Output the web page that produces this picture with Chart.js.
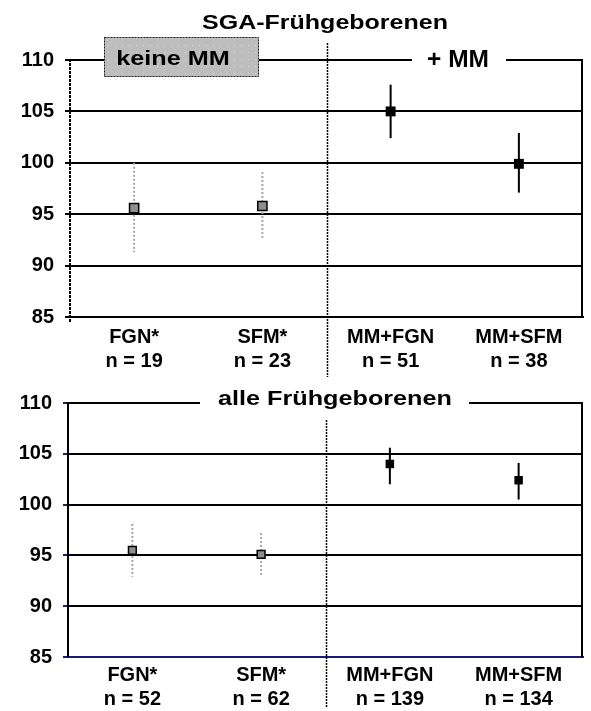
<!DOCTYPE html>
<html>
<head>
<meta charset="utf-8">
<script src="https://cdn.jsdelivr.net/npm/chart.js@4.4.1/dist/chart.umd.min.js"></script>
<style>
    html, body { margin: 0; padding: 0; background: #fff; }
    #wrap { position: relative; width: 591px; height: 711px; }
    #c1 { position: absolute; left: 0; top: 0; }
    #c2 { position: absolute; left: 0; top: 380px; }
</style>
</head>
<body>
<div id="wrap">
    <canvas id="c1" width="591" height="380"></canvas>
    <canvas id="c2" width="591" height="331"></canvas>
</div>
<script>
// ==========================================
// DATEN
// ==========================================
const kategorien = ['FGN*', 'SFM*', 'MM+FGN', 'MM+SFM'];
const yWerte = [85, 90, 95, 100, 105, 110];

// SGA-Frühgeborene
const nSGA = [19, 23, 51, 38];
const mittelSGA = [95.6, 95.8, 105.0, 99.9];
const unterSGA = [91.3, 92.7, 102.4, 97.1];
const oberSGA = [100.0, 99.1, 107.6, 102.9];

// alle Frühgeborenen
const nAlle = [52, 62, 139, 134];
const mittelAlle = [95.5, 95.1, 104.0, 102.4];
const unterAlle = [92.9, 92.9, 102.0, 100.5];
const oberAlle = [98.1, 97.2, 105.6, 104.1];

const SCHRIFT = '"Liberation Sans", Arial, Helvetica, sans-serif';
const NAVY = '#1c1c78';

// Text gestreckt zeichnen (Vorlage ist horizontal breiter)
function streckText(ctx, txt, cx, base, px, sx) {
    ctx.save();
    ctx.font = 'bold ' + px + 'px ' + SCHRIFT;
    ctx.textAlign = 'center';
    ctx.textBaseline = 'alphabetic';
    ctx.fillStyle = '#000';
    ctx.translate(cx, base);
    ctx.scale(sx, 1);
    ctx.fillText(txt, 0, 0);
    ctx.restore();
}

// Fehlerbalken über die Skalen der Library
const fehlerbalken = {
    id: 'fehlerbalken',
    beforeDatasetsDraw(chart, args, o) {
        const { ctx, scales: { x, y } } = chart;
        o.unten.forEach((lo, i) => {
            const px = x.getPixelForValue(i);
            const ohneMM = i < 2;
            ctx.save();
            ctx.strokeStyle = ohneMM ? '#a6a6a6' : '#000';
            ctx.setLineDash(ohneMM ? [2, 2] : []);
            ctx.lineWidth = 2;
            ctx.beginPath();
            ctx.moveTo(px, y.getPixelForValue(o.oben[i]));
            ctx.lineTo(px, y.getPixelForValue(lo));
            ctx.stroke();
            ctx.restore();
        });
    }
};

// Rahmen, Achse, Trennlinie, Beschriftungen
const rahmen = {
    id: 'rahmen',
    afterDraw(chart, args, o) {
        const { ctx, chartArea: a, scales: { x, y } } = chart;
        const y110 = y.getPixelForValue(110);
        const y85 = y.getPixelForValue(85);
        ctx.save();
        ctx.strokeStyle = '#000';
        ctx.lineWidth = 2;
        // rechter Rand
        ctx.beginPath();
        ctx.moveTo(a.right - 1, y110 - 1);
        ctx.lineTo(a.right - 1, y85);
        ctx.stroke();
        // linke Achse
        ctx.setLineDash(o.achseDash);
        ctx.beginPath();
        ctx.moveTo(a.left, y110 - 1);
        ctx.lineTo(a.left, y85 + o.achseUeber);
        ctx.stroke();
        // Trennlinie zwischen ohne / mit MM
        const xd = Math.round((x.getPixelForValue(1) + x.getPixelForValue(2)) / 2) + 0.5;
        ctx.setLineDash([2, 1]);
        ctx.lineWidth = 1.5;
        ctx.beginPath();
        ctx.moveTo(xd, o.trennOben);
        ctx.lineTo(xd, o.trennUnten);
        ctx.stroke();
        ctx.setLineDash([]);
        ctx.restore();

        if (o.zeichne) o.zeichne(ctx, a, y110);
    }
};

function punktFarben(grau, schwarz) {
    return [grau, grau, schwarz, schwarz];
}

function optionen(cfg) {
    return {
        responsive: false,
        animation: false,
        events: [],
        layout: { padding: { top: cfg.oben, right: cfg.rechts, left: 0, bottom: 0 } },
        plugins: {
            legend: { display: false },
            tooltip: { enabled: false },
            fehlerbalken: { unten: cfg.unten, oben: cfg.oben2 },
            rahmen: {
                trennOben: cfg.trennOben, trennUnten: cfg.trennUnten,
                achseDash: cfg.yDash, achseUeber: cfg.achseUeber, zeichne: cfg.zeichne
            }
        },
        scales: {
            x: {
                type: 'category',
                offset: true,
                afterFit: s => { s.height = cfg.xHoehe; },
                grid: { display: false, drawTicks: false },
                border: { color: cfg.xRand, width: 2 },
                ticks: {
                    color: '#000',
                    padding: cfg.xPad,
                    maxRotation: 0,
                    autoSkip: false,
                    font: { family: SCHRIFT, size: 20, weight: 'bold', lineHeight: 1.17 }
                }
            },
            y: {
                min: 85,
                max: 110,
                afterBuildTicks: s => { s.ticks = yWerte.map(v => ({ value: v })); },
                afterFit: s => { s.width = cfg.yBreite; },
                grid: {
                    color: c => (cfg.xRand !== '#000' && c.tick && c.tick.value === 85) ? cfg.xRand : '#000',
                    lineWidth: 2,
                    tickLength: 5,
                    tickColor: cfg.tickFarbe
                },
                border: { display: false },
                ticks: {
                    color: '#000',
                    padding: 11,
                    font: { family: SCHRIFT, size: 20, weight: 'bold' }
                }
            }
        }
    };
}

// Punktmuster für "keine MM"
function muster(ctx) {
    const c = document.createElement('canvas');
    c.width = 7; c.height = 7;
    const g = c.getContext('2d');
    g.fillStyle = '#bdbdbd';
    g.fillRect(0, 0, 7, 7);
    g.fillStyle = '#d6d6d6';
    g.fillRect(3, 3, 1, 1);
    return ctx.createPattern(c, 'repeat');
}

// ==========================================
// GRAFIK 1: SGA-Frühgeborenen
// ==========================================
new Chart(document.getElementById('c1'), {
    type: 'line',
    data: {
        labels: kategorien.map((k, i) => [k, 'n = ' + nSGA[i]]),
        datasets: [{
            data: mittelSGA,
            showLine: false,
            pointStyle: 'rect',
            pointRadius: punktFarben(6.5, 7),
            pointBackgroundColor: punktFarben('#8f8f8f', '#000'),
            pointBorderColor: '#000',
            pointBorderWidth: punktFarben(1.5, 0)
        }]
    },
    options: optionen({
        oben: 60, rechts: 1, yBreite: 70, xHoehe: 63, xPad: 9,
        xRand: '#000', tickFarbe: '#000', yDash: [3, 1], achseUeber: 6,
        unten: unterSGA, oben2: oberSGA,
        trennOben: 43, trennUnten: 377,
        zeichne: (ctx, a, y110) => {
            streckText(ctx, 'SGA-Frühgeborenen', 325, 29, 20, 1.25);
            // Kasten "keine MM"
            ctx.save();
            ctx.fillStyle = muster(ctx);
            ctx.fillRect(a.left + 34, y110 - 23, 155, 40);
            ctx.strokeStyle = '#222';
            ctx.lineWidth = 1;
            ctx.setLineDash([2, 1]);
            ctx.strokeRect(a.left + 34.5, y110 - 22.5, 154, 39);
            ctx.restore();
            streckText(ctx, 'keine MM', a.left + 103, 65, 21, 1.2);
            // "+ MM" auf der Linie
            ctx.save();
            ctx.fillStyle = '#fff';
            ctx.fillRect(412, y110 - 3, 94, 6);
            ctx.restore();
            streckText(ctx, '+ MM', 458, 67, 24, 1.02);
        }
    }),
    plugins: [fehlerbalken, rahmen]
});

// ==========================================
// GRAFIK 2: alle Frühgeborenen
// ==========================================
new Chart(document.getElementById('c2'), {
    type: 'line',
    data: {
        labels: kategorien.map((k, i) => [k, 'n = ' + nAlle[i]]),
        datasets: [{
            data: mittelAlle,
            showLine: false,
            pointStyle: 'rect',
            pointRadius: punktFarben(5.5, 6),
            pointBackgroundColor: punktFarben('#8f8f8f', '#000'),
            pointBorderColor: '#000',
            pointBorderWidth: punktFarben(1.5, 0)
        }]
    },
    options: optionen({
        oben: 17, rechts: 8, yBreite: 68, xHoehe: 54, xPad: 7,
        xRand: NAVY, tickFarbe: NAVY, yDash: [], achseUeber: 0,
        unten: unterAlle, oben2: oberAlle,
        trennOben: 40, trennUnten: 328,
        zeichne: (ctx, a, y110) => {
            ctx.save();
            ctx.fillStyle = '#fff';
            ctx.fillRect(200, y110 - 3, 269, 6);
            ctx.restore();
            streckText(ctx, 'alle Frühgeborenen', 335, 25, 21, 1.2);
        }
    }),
    plugins: [fehlerbalken, rahmen]
});
</script>
</body>
</html>
